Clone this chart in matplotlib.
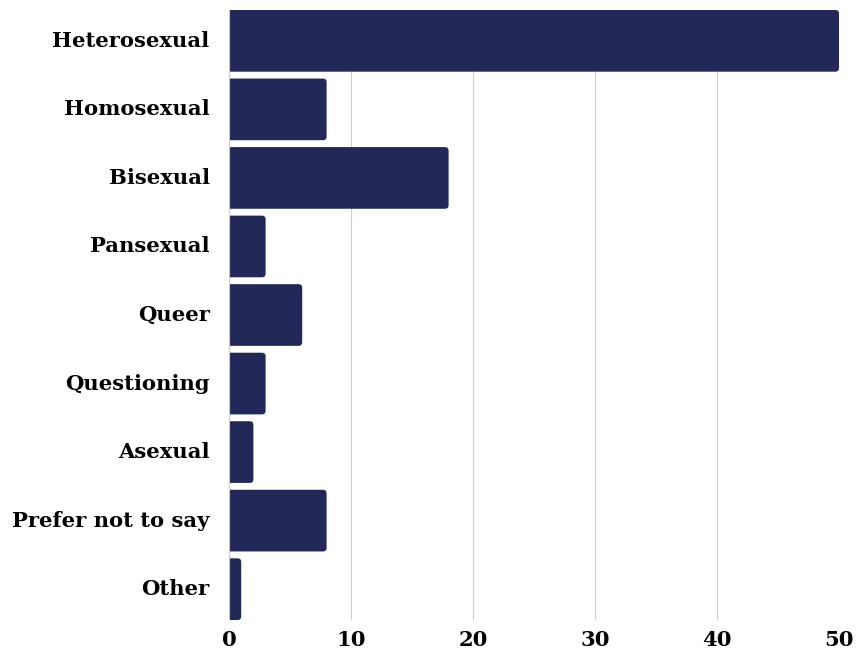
import matplotlib
matplotlib.use("Agg")
import matplotlib.pyplot as plt
from matplotlib.patches import FancyBboxPatch
from matplotlib.transforms import ScaledTranslation

categories = ["Heterosexual", "Homosexual", "Bisexual", "Pansexual", "Queer",
              "Questioning", "Asexual", "Prefer not to say", "Other"]
counts = [50, 8, 18, 3, 6, 3, 2, 8, 1]
x_ticks = [0, 10, 20, 30, 40, 50]

bar_color = "#222959"
font = "DejaVu Serif"

fig = plt.figure(figsize=(8.67, 6.53), dpi=100)
ax = fig.add_axes([229 / 867, 33 / 653, 610 / 867, 610 / 653])

ypos = list(range(len(categories)))
bars = ax.barh(ypos, counts, height=0.9, color=bar_color)

ax.set_xlim(0, 50)
ax.set_ylim(len(categories) - 1 + 0.45, -0.45)

# swap plain rectangles for ones with rounded right corners
fig.canvas.draw()
px_x = ax.transData.transform((1, 0))[0] - ax.transData.transform((0, 0))[0]
px_y = abs(ax.transData.transform((0, 1))[1] - ax.transData.transform((0, 0))[1])
r = 0.3
for b in bars:
    x0, y0, w, h = b.get_x(), b.get_y(), b.get_width(), b.get_height()
    b.set_visible(False)
    p = FancyBboxPatch((x0 - r, y0), w + r, h,
                       boxstyle=f"round,pad=0,rounding_size={r}",
                       mutation_aspect=px_x / px_y,
                       facecolor=bar_color, edgecolor="none", zorder=2)
    ax.add_patch(p)

ax.set_xticks(x_ticks)
ax.set_xticklabels([str(t) for t in x_ticks])
ax.set_yticks(ypos)
ax.set_yticklabels(categories)
ax.grid(axis="x", color="#cccccc", linewidth=0.8, zorder=0)
ax.set_axisbelow(True)
for s in ["top", "right", "bottom"]:
    ax.spines[s].set_visible(False)
ax.spines["left"].set_color("#cccccc")
ax.spines["left"].set_linewidth(0.8)
ax.tick_params(axis="both", length=0)
ax.tick_params(axis="y", pad=14)
ax.tick_params(axis="x", pad=7)
lift = ScaledTranslation(0, 2 / 100, fig.dpi_scale_trans)
for lbl in ax.get_yticklabels():
    lbl.set_transform(lbl.get_transform() + lift)
for lbl in ax.get_yticklabels() + ax.get_xticklabels():
    lbl.set_fontfamily(font)
    lbl.set_fontweight("bold")
    lbl.set_fontsize(15.2)
    lbl.set_color("#000000")

fig.savefig("out.png", dpi=100)
